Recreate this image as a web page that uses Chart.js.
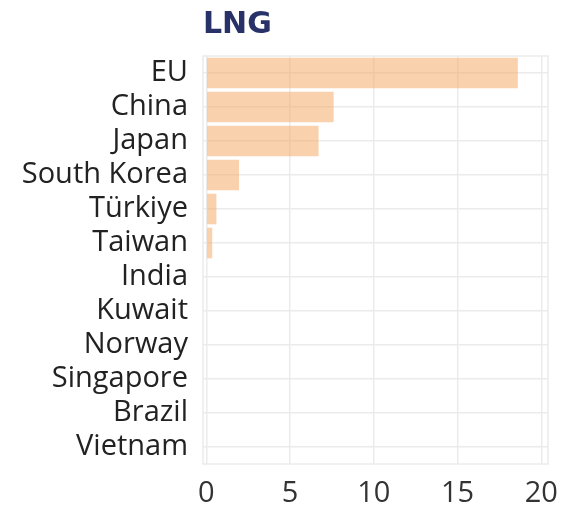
<!DOCTYPE html>
<html>
<head>
<meta charset="utf-8">
<script src="https://cdn.jsdelivr.net/npm/chart.js@4"></script>
<style>
  html, body { margin: 0; padding: 0; background: #ffffff; }
  #wrap { width: 561px; height: 506px; position: relative; }
</style>
</head>
<body>
<div id="wrap"><canvas id="chart"></canvas></div>
<script>
// LNG volumes by destination
const categories = ['EU', 'China', 'Japan', 'South Korea', 'Türkiye', 'Taiwan',
                    'India', 'Kuwait', 'Norway', 'Singapore', 'Brazil', 'Vietnam'];
const lngValues = [18.6, 7.6, 6.7, 1.95, 0.6, 0.35, 0, 0, 0, 0, 0, 0];
const xTickValues = [0, 5, 10, 15, 20];
const chartTitle = 'LNG';

const gridColor = '#ebebeb';

// Thin frame around the plotting panel
const panelFrame = {
  id: 'panelFrame',
  beforeDatasetsDraw(chart) {
    const { ctx, chartArea: a } = chart;
    ctx.save();
    ctx.strokeStyle = gridColor;
    ctx.lineWidth = 1.5;
    ctx.strokeRect(a.left, a.top, a.right - a.left, a.bottom - a.top);
    ctx.restore();
  }
};

new Chart(document.getElementById('chart'), {
  type: 'bar',
  data: {
    labels: categories,
    datasets: [{
      data: lngValues,
      backgroundColor: 'rgba(246, 172, 105, 0.55)',
      borderWidth: 0,
      categoryPercentage: 0.9,
      barPercentage: 1.0
    }]
  },
  options: {
    indexAxis: 'y',
    responsive: true,
    maintainAspectRatio: false,
    animation: false,
    layout: { padding: { left: 0, right: 13, top: 0, bottom: 0 } },
    plugins: {
      legend: { display: false },
      tooltip: { enabled: false },
      title: {
        display: true,
        text: chartTitle,
        align: 'start',
        fullSize: false,
        color: '#283269',
        font: { family: 'DejaVu Sans', size: 30, weight: 'bold', lineHeight: 1.2 },
        padding: { top: 7, bottom: 13 }
      }
    },
    scales: {
      x: {
        type: 'linear',
        min: -0.2,
        max: 20.4,
        afterBuildTicks(scale) {
          scale.ticks = xTickValues.map(v => ({ value: v }));
        },
        afterFit(scale) {
          scale.height = 42;
          scale.paddingLeft = 0;
          scale.paddingRight = 0;
        },
        grid: { color: gridColor, lineWidth: 1.5, drawTicks: false },
        border: { display: false },
        ticks: {
          color: '#333333',
          padding: 15,
          font: { family: 'Open Sans', size: 29, lineHeight: 1 }
        }
      },
      y: {
        type: 'category',
        afterFit(scale) { scale.width = 203; },
        grid: { color: gridColor, lineWidth: 1.5, drawTicks: false, offset: false },
        border: { display: false },
        ticks: {
          color: '#222222',
          padding: 15,
          autoSkip: false,
          font: { family: 'Open Sans', size: 29, lineHeight: 1 }
        }
      }
    }
  },
  plugins: [panelFrame]
});
</script>
</body>
</html>
